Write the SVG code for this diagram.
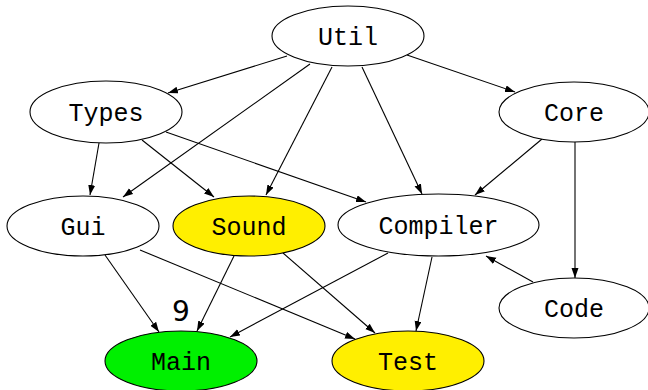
<svg xmlns="http://www.w3.org/2000/svg" width="648" height="390" viewBox="0 0 648 390">
<style>
.n ellipse{stroke:#000;stroke-width:1.1;fill:#fff}
.n text{font-family:"Liberation Mono","DejaVu Sans Mono",monospace;font-size:25px;text-anchor:middle;fill:#000}
.e line{stroke:#000;stroke-width:1.1}
.lbl{font-family:"DejaVu Sans",sans-serif;font-size:28px;text-anchor:middle;fill:#000}
</style>
<defs>
<marker id="a" markerUnits="userSpaceOnUse" markerWidth="11" markerHeight="8" refX="10" refY="3.5" orient="auto">
<path d="M0,0 L10,3.5 L0,7 z" fill="#000"/>
</marker>
</defs>
<rect width="648" height="390" fill="#fff"/>
<g class="e" id="edges" marker-end="url(#a)">
<line x1="287" y1="56" x2="168" y2="93" marker-end="url(#a)"/>
<line x1="407" y1="55" x2="515" y2="92" marker-end="url(#a)"/>
<line x1="310" y1="64" x2="123" y2="197" marker-end="url(#a)"/>
<line x1="332" y1="67" x2="266" y2="195" marker-end="url(#a)"/>
<line x1="362" y1="67" x2="422" y2="194" marker-end="url(#a)"/>
<line x1="99" y1="143" x2="90" y2="195" marker-end="url(#a)"/>
<line x1="142" y1="140" x2="214" y2="197" marker-end="url(#a)"/>
<line x1="166" y1="132" x2="366" y2="202" marker-end="url(#a)"/>
<line x1="542" y1="139" x2="475" y2="195" marker-end="url(#a)"/>
<line x1="575" y1="142" x2="575" y2="278" marker-end="url(#a)"/>
<line x1="105" y1="255" x2="159" y2="332" marker-end="url(#a)"/>
<line x1="140" y1="250" x2="355" y2="339" marker-end="url(#a)"/>
<line x1="234" y1="256" x2="197" y2="331" marker-end="url(#a)"/>
<line x1="283" y1="253" x2="375" y2="333" marker-end="url(#a)"/>
<line x1="388" y1="253" x2="230" y2="337" marker-end="url(#a)"/>
<line x1="432" y1="257" x2="416" y2="331" marker-end="url(#a)"/>
<line x1="533" y1="282" x2="486" y2="256" marker-end="url(#a)"/>
</g>
<g class="n" id="Util"><ellipse cx="348" cy="36" rx="76" ry="30"/><text x="348" y="44.5">Util</text></g>
<g class="n" id="Types"><ellipse cx="106" cy="112" rx="76" ry="31"/><text x="106" y="120.5">Types</text></g>
<g class="n" id="Core"><ellipse cx="574" cy="112" rx="75" ry="30"/><text x="574" y="120.5">Core</text></g>
<g class="n" id="Gui"><ellipse cx="83" cy="226" rx="76" ry="30"/><text x="83" y="234.5">Gui</text></g>
<g class="n" id="Sound"><ellipse cx="249" cy="226" rx="76" ry="30" style="fill:#FFEF00"/><text x="249" y="234.5">Sound</text></g>
<g class="n" id="Compiler"><ellipse cx="438.5" cy="225" rx="100.5" ry="31"/><text x="438.5" y="233.5">Compiler</text></g>
<g class="n" id="Code"><ellipse cx="574" cy="308" rx="75" ry="30"/><text x="574" y="316.5">Code</text></g>
<g class="n" id="Main"><ellipse cx="181" cy="361" rx="76" ry="30" style="fill:#00F000"/><text x="181" y="370">Main</text></g>
<g class="n" id="Test"><ellipse cx="408" cy="361" rx="76" ry="30" style="fill:#FFEF00"/><text x="408" y="370">Test</text></g>
<text class="lbl" x="181" y="321">9</text>
</svg>
